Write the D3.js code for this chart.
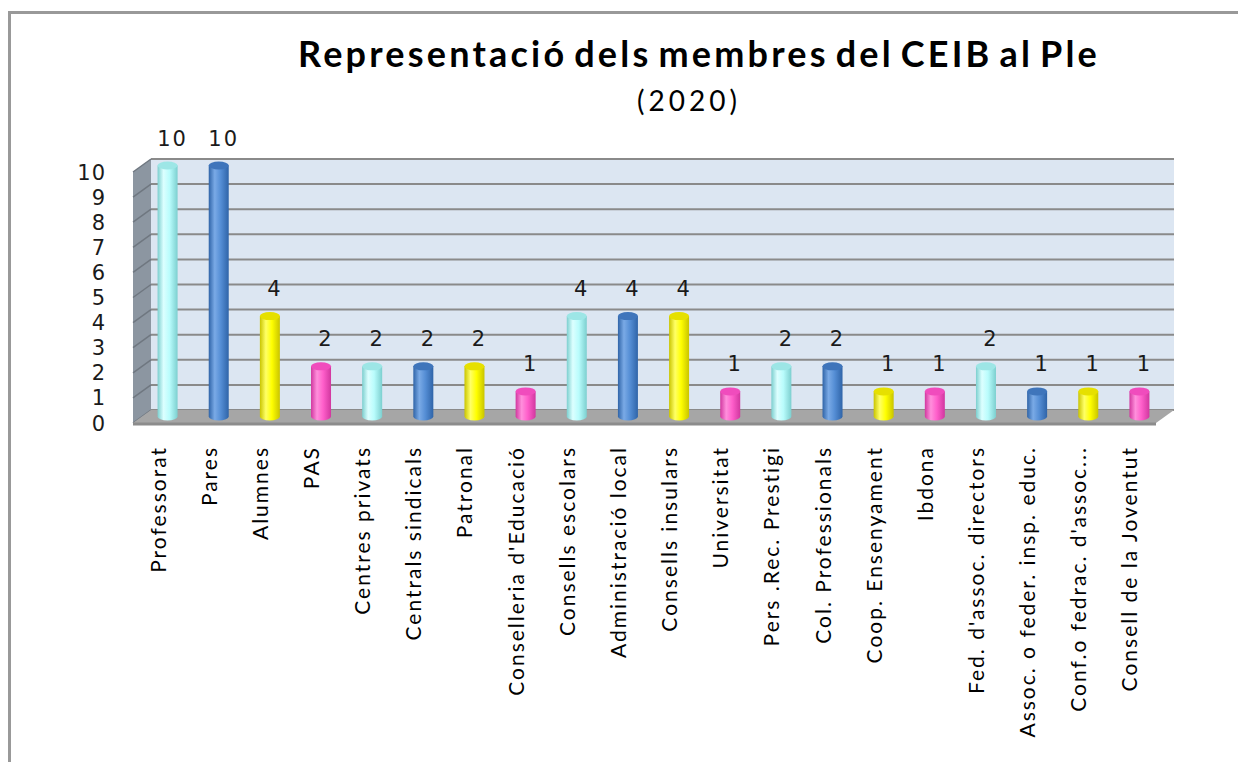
<!DOCTYPE html>
<html>
<head>
<meta charset="utf-8">
<script src="https://cdn.jsdelivr.net/npm/d3@7"></script>
<style>
  body { margin: 0; background: #fff; }
  svg { display: block; }
</style>
</head>
<body>
<div id="chart"></div>
<script>
// data
var categories = ["Professorat", "Pares", "Alumnes", "PAS", "Centres privats", "Centrals sindicals",
  "Patronal", "Conselleria d'Educació", "Consells escolars", "Administració local", "Consells insulars",
  "Universitat", "Pers .Rec. Prestigi", "Col. Professionals", "Coop. Ensenyament", "Ibdona",
  "Fed. d'assoc. directors", "Assoc. o feder. insp. educ.", "Conf.o fedrac. d'assoc...", "Consell de la Joventut"];
var members = [10, 10, 4, 2, 2, 2, 2, 1, 4, 4, 4, 1, 2, 2, 1, 1, 2, 1, 1, 1];
var yTicks = [0, 1, 2, 3, 4, 5, 6, 7, 8, 9, 10];
var title = "Representació dels membres del CEIB al Ple";
var subtitle = "(2020)";

function drawChart() {
  var svgWidth = 1238, svgHeight = 762;
  // front plane of the 3d box
  var left = 133, right = 1156, bottom = 423, top = 172;
  var depthX = 18, depthY = 13;

  var svg = d3.select("#chart").append("svg")
    .attr("width", svgWidth)
    .attr("height", svgHeight);

  var defs = svg.append("defs");
  var palette = [
    {base: "#b9fcfc", light: "#dcffff", dark: "#7ccfcf", top: "#9de6e6"},
    {base: "#558ed5", light: "#7aaae6", dark: "#2f64a8", top: "#3f75bb"},
    {base: "#ffff00", light: "#ffff66", dark: "#c9c400", top: "#e6e000"},
    {base: "#ff5fcb", light: "#ff8fdc", dark: "#d1379f", top: "#f04cbd"}
  ];
  palette.forEach(function(c, i) {
    var g = defs.append("linearGradient").attr("id", "cyl" + i)
      .attr("x1", "0%").attr("x2", "100%").attr("y1", "0%").attr("y2", "0%");
    g.append("stop").attr("offset", "0%").attr("stop-color", c.dark);
    g.append("stop").attr("offset", "30%").attr("stop-color", c.light);
    g.append("stop").attr("offset", "60%").attr("stop-color", c.base);
    g.append("stop").attr("offset", "100%").attr("stop-color", c.dark);
  });

  // outer frame
  svg.append("path")
    .attr("d", "M9.5,762 L9.5,12.5 L1238,12.5")
    .attr("fill", "none")
    .attr("stroke", "#999")
    .attr("stroke-width", 3);

  var x = d3.scaleBand()
    .domain(categories)
    .range([left, right])
    .padding(0);

  // y on the back wall
  var y = d3.scaleLinear()
    .domain([0, 10])
    .range([bottom - depthY, top - depthY]);

  // back wall
  svg.append("rect")
    .attr("x", left + depthX)
    .attr("y", y(10))
    .attr("width", right - left)
    .attr("height", y(0) - y(10))
    .attr("fill", "#dce6f2");

  // side wall
  svg.append("polygon")
    .attr("points", [[left, top], [left + depthX, y(10)], [left + depthX, y(0)], [left, bottom]].join(" "))
    .attr("fill", "#8c96a1");

  // gridlines on back and side wall
  var grid = svg.append("g");
  grid.selectAll("line.back")
    .data(yTicks)
    .enter()
    .append("line")
    .attr("class", "back")
    .attr("x1", left + depthX)
    .attr("x2", right + depthX)
    .attr("y1", d => y(d))
    .attr("y2", d => y(d))
    .attr("stroke", "#8a8a8a")
    .attr("stroke-width", 2);
  grid.selectAll("line.side")
    .data(yTicks)
    .enter()
    .append("line")
    .attr("class", "side")
    .attr("x1", left)
    .attr("x2", left + depthX)
    .attr("y1", d => y(d) + depthY)
    .attr("y2", d => y(d))
    .attr("stroke", "#6f7780")
    .attr("stroke-width", 1.5);

  // floor
  svg.append("polygon")
    .attr("points", [[left, bottom], [left + depthX, y(0)], [right + depthX, y(0)], [right, bottom]].join(" "))
    .attr("fill", "#a6a6a6");
  svg.append("line")
    .attr("x1", left).attr("x2", right)
    .attr("y1", bottom + 1).attr("y2", bottom + 1)
    .attr("stroke", "#8c8c8c")
    .attr("stroke-width", 3);

  // y axis labels (front plane)
  svg.append("g").selectAll("text")
    .data(yTicks)
    .enter()
    .append("text")
    .attr("x", 106)
    .attr("y", d => y(d) + depthY)
    .attr("dy", "0.36em")
    .attr("text-anchor", "end")
    .attr("font-family", "DejaVu Sans")
    .attr("font-size", "21px")
    .attr("letter-spacing", "1px")
    .attr("fill", "#1a1a1a")
    .text(d => d);

  // cylinders, set at half depth
  var barW = 20, ry = 4;
  var cx = d => x(d.cat) + x.bandwidth() / 2 + depthX / 2;
  var yMid = v => y(v) + depthY / 2;
  var rows = categories.map((c, i) => ({cat: c, value: members[i], idx: i}));

  var bars = svg.append("g").selectAll("g")
    .data(rows)
    .enter()
    .append("g");
  bars.append("path")
    .attr("d", function(d) {
      var x0 = cx(d) - barW / 2, x1 = cx(d) + barW / 2;
      var yt = yMid(d.value), yb = yMid(0);
      return "M" + x0 + "," + yt + " L" + x0 + "," + yb +
        " A" + barW / 2 + "," + ry + " 0 0 0 " + x1 + "," + yb +
        " L" + x1 + "," + yt + " Z";
    })
    .attr("fill", d => "url(#cyl" + (d.idx % 4) + ")");
  bars.append("ellipse")
    .attr("cx", d => cx(d))
    .attr("cy", d => yMid(d.value))
    .attr("rx", barW / 2)
    .attr("ry", ry)
    .attr("fill", d => palette[d.idx % 4].top);

  // value labels
  svg.append("g").selectAll("text")
    .data(rows)
    .enter()
    .append("text")
    .attr("x", d => cx(d) + 5)
    .attr("y", d => yMid(d.value) - 20)
    .attr("text-anchor", "middle")
    .attr("font-family", "DejaVu Sans")
    .attr("font-size", "21px")
    .attr("letter-spacing", "2px")
    .attr("fill", "#1a1a1a")
    .text(d => d.value);

  // category labels
  svg.append("g").selectAll("text")
    .data(categories)
    .enter()
    .append("text")
    .attr("transform", d => "translate(" + (x(d) + x.bandwidth() / 2 + 7) + ",446) rotate(-90)")
    .attr("text-anchor", "end")
    .attr("font-family", "Lato")
    .attr("font-size", "21px")
    .attr("letter-spacing", "2px")
    .attr("fill", "#000")
    .text(d => d);

  // titles
  svg.append("text")
    .attr("x", 699)
    .attr("y", 67)
    .attr("text-anchor", "middle")
    .attr("font-family", "Lato")
    .attr("font-weight", "bold")
    .attr("font-size", "36px")
    .attr("letter-spacing", "3.2px")
    .attr("word-spacing", "-5px")
    .text(title);
  svg.append("text")
    .attr("x", 689)
    .attr("y", 111)
    .attr("text-anchor", "middle")
    .attr("font-family", "Lato")
    .attr("font-size", "28px")
    .attr("letter-spacing", "4px")
    .text(subtitle);
}

drawChart();
</script>
</body>
</html>
